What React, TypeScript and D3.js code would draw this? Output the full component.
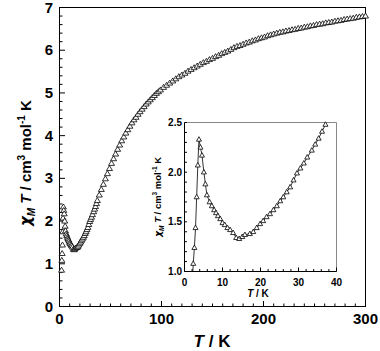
import React from "react";
import * as d3 from "d3";

// low temperature part (also shown in the inset)
const lowT = [2.0, 2.3, 2.6, 2.9, 3.2, 3.5, 3.8, 4.2, 4.6, 5.1, 5.5, 5.9, 6.6, 7.2, 7.8, 8.3, 8.8, 9.4, 10.0, 10.6, 11.3, 12.0, 12.8, 13.6, 14.4, 15.2, 15.9, 17.2, 18.1, 19.0, 19.9, 20.7, 21.6, 22.5, 23.4, 24.3, 25.2, 26.0, 26.9, 27.8, 28.7, 29.6, 30.5, 31.4, 32.3, 33.5, 34.4, 35.3, 36.2, 37.1];
const lowChiT = [0.85, 1.08, 1.24, 1.44, 1.75, 2.07, 2.33, 2.25, 2.17, 2.0, 1.88, 1.77, 1.7, 1.66, 1.62, 1.59, 1.56, 1.53, 1.49, 1.47, 1.44, 1.42, 1.39, 1.34, 1.33, 1.35, 1.37, 1.38, 1.4, 1.44, 1.48, 1.51, 1.55, 1.58, 1.62, 1.66, 1.71, 1.75, 1.8, 1.85, 1.92, 1.99, 2.04, 2.09, 2.15, 2.22, 2.28, 2.34, 2.41, 2.48];
// higher temperatures (main plot only)
const highT = [39, 41, 43, 45, 47, 49, 51, 53, 55, 57, 59, 61, 63, 65, 67, 69, 71, 73, 75, 77, 79, 81, 83, 85, 87, 89, 91, 93, 95, 97, 99, 102, 105, 108, 111, 114, 117, 120, 123, 126, 129, 132, 135, 138, 141, 144, 147, 150, 153, 156, 159, 162, 165, 168, 171, 174, 177, 180, 183, 186, 189, 192, 195, 198, 201, 204, 207, 210, 213, 216, 219, 222, 225, 228, 231, 234, 237, 240, 243, 246, 249, 252, 255, 258, 261, 264, 267, 270, 273, 276, 279, 282, 285, 288, 291, 294, 297, 300];
const highChiT = [2.61, 2.74, 2.86, 2.99, 3.11, 3.23, 3.35, 3.46, 3.57, 3.68, 3.78, 3.88, 3.97, 4.06, 4.14, 4.22, 4.3, 4.37, 4.43, 4.5, 4.56, 4.62, 4.68, 4.74, 4.79, 4.84, 4.89, 4.94, 4.99, 5.03, 5.07, 5.13, 5.18, 5.23, 5.28, 5.33, 5.38, 5.42, 5.46, 5.51, 5.55, 5.59, 5.63, 5.67, 5.71, 5.74, 5.78, 5.81, 5.85, 5.88, 5.92, 5.95, 5.98, 6.02, 6.06, 6.09, 6.11, 6.14, 6.17, 6.19, 6.22, 6.24, 6.27, 6.29, 6.31, 6.34, 6.36, 6.38, 6.4, 6.42, 6.43, 6.45, 6.46, 6.48, 6.49, 6.51, 6.52, 6.54, 6.55, 6.57, 6.58, 6.6, 6.61, 6.62, 6.64, 6.65, 6.66, 6.68, 6.69, 6.7, 6.72, 6.73, 6.74, 6.75, 6.77, 6.78, 6.79, 6.8];

const mainXTicks = [0, 100, 200, 300];
const mainYTicks = [0, 1, 2, 3, 4, 5, 6, 7];
const insetXTicks = [0, 10, 20, 30, 40];
const insetYTicks = [1.0, 1.5, 2.0, 2.5];

const font = "'Liberation Sans', Arial, sans-serif";
const chiFont = "'DejaVu Sans', sans-serif";

const x = d3.scaleLinear().domain([0, 300]).range([59.5, 365.5]);
const y = d3.scaleLinear().domain([0, 7]).range([306.5, 7.5]);
const xi = d3.scaleLinear().domain([0, 40]).range([184.5, 336.5]);
const yi = d3.scaleLinear().domain([1, 2.5]).range([271.5, 122.5]);

const tri = (cx: number, cy: number, w: number, h: number) =>
	`M${cx},${cy - h * 0.6}L${cx + w / 2},${cy + h * 0.4}L${cx - w / 2},${cy + h * 0.4}Z`;

export default function App() {
	const allT = lowT.concat(highT);
	const allChi = lowChiT.concat(highChiT);
	const insetLine = d3
		.line<number>()
		.x((d, i) => xi(lowT[i]))
		.y((d) => yi(d));
	const xMinor = d3.range(0, 301, 10);
	const yMinor = d3.range(0, 7.01, 0.2);
	const xiMinor = d3.range(0, 40.01, 2);
	const yiMinor = d3.range(1, 2.501, 0.1);
	return (
		<svg width={380} height={351} style={{ position: "absolute", left: 0, top: 0, background: "#fff" }}>
			{/* main frame */}
			<rect x={59.5} y={7.5} width={306} height={299} fill="none" stroke="#000" strokeWidth={1} />
			{xMinor.map((t) => (
				<line key={"xm" + t} x1={x(t)} x2={x(t)} y1={306.5} y2={t % 100 === 0 ? 301 : 303.5} stroke="#000" />
			))}
			{yMinor.map((v) => (
				<line key={"ym" + v} x1={59.5} x2={Math.abs(v - Math.round(v)) < 0.01 ? 65 : 62.5} y1={y(v)} y2={y(v)} stroke="#000" />
			))}
			{mainXTicks.map((t) => (
				<text key={"xl" + t} x={x(t)} y={324} textAnchor="middle" fontSize={15} fontWeight="bold" fontFamily={font}>
					{t}
				</text>
			))}
			{mainYTicks.map((v) => (
				<text key={"yl" + v} x={53} y={y(v) + 5} textAnchor="end" fontSize={15} fontWeight="bold" fontFamily={font}>
					{v}
				</text>
			))}
			<text x={212} y={347} textAnchor="middle" fontSize={17} fontWeight="bold" fontFamily={font}>
				<tspan fontStyle="italic">T</tspan> / K
			</text>
			<text transform="translate(31,163) rotate(-90)" textAnchor="middle" fontSize={15} fontWeight="bold" fontFamily={font}>
				<tspan fontStyle="italic" fontFamily={chiFont}>χ</tspan>
				<tspan fontStyle="italic" fontSize={10} dy={4}>M</tspan>
				<tspan fontStyle="italic" dy={-4}> T</tspan>
				<tspan> / cm</tspan>
				<tspan fontSize={10} dy={-6}>3</tspan>
				<tspan dy={6}> mol</tspan>
				<tspan fontSize={10} dy={-6}>-1</tspan>
				<tspan dy={6}> K</tspan>
			</text>
			{/* main data */}
			{allChi.map((v, i) => (
				<path key={"p" + i} d={tri(x(allT[i]), y(v), 6, 5)} fill="#fff" stroke="#000" strokeWidth={0.8} />
			))}

			{/* inset */}
			<rect x={184.5} y={122.5} width={152} height={149} fill="#fff" />
			<line x1={184.5} x2={336.5} y1={122.5} y2={122.5} stroke="#888" />
			<line x1={336.5} x2={336.5} y1={122.5} y2={271.5} stroke="#888" />
			<line x1={184.5} x2={184.5} y1={122.5} y2={271.5} stroke="#000" />
			<line x1={184.5} x2={336.5} y1={271.5} y2={271.5} stroke="#000" />
			{xiMinor.map((t) => (
				<line key={"xim" + t} x1={xi(t)} x2={xi(t)} y1={271.5} y2={t % 10 === 0 ? 267.5 : 269} stroke="#000" />
			))}
			{yiMinor.map((v) => (
				<line key={"yim" + v} x1={184.5} x2={187} y1={yi(v)} y2={yi(v)} stroke="#000" />
			))}
			{insetXTicks.map((t) => (
				<text key={"xil" + t} x={xi(t)} y={286} textAnchor="middle" fontSize={10} fontWeight="bold" fontFamily={font}>
					{t}
				</text>
			))}
			{insetYTicks.map((v) => (
				<text key={"yil" + v} x={182} y={yi(v) + 3.5} textAnchor="end" fontSize={10} fontWeight="bold" fontFamily={font}>
					{v.toFixed(1)}
				</text>
			))}
			<text x={258} y={297} textAnchor="middle" fontSize={10} fontWeight="bold" fontFamily={font}>
				<tspan fontStyle="italic">T</tspan> / K
			</text>
			<text transform="translate(161,197) rotate(-90)" textAnchor="middle" fontSize={9.5} fontWeight="bold" fontFamily={font}>
				<tspan fontStyle="italic" fontFamily={chiFont}>χ</tspan>
				<tspan fontStyle="italic" fontSize={6.5} dy={2.5}>M</tspan>
				<tspan fontStyle="italic" dy={-2.5}> T</tspan>
				<tspan> / cm</tspan>
				<tspan fontSize={6.5} dy={-4}>3</tspan>
				<tspan dy={4}> mol</tspan>
				<tspan fontSize={6.5} dy={-4}>-1</tspan>
				<tspan dy={4}> K</tspan>
			</text>
			<defs>
				<clipPath id="insetClip">
					<rect x={184.5} y={122.5} width={152} height={149} />
				</clipPath>
			</defs>
			<path d={insetLine(lowChiT) || ""} fill="none" stroke="#000" strokeWidth={0.8} clipPath="url(#insetClip)" />
			{lowChiT.map((v, i) =>
				v >= 1 ? (
					<path key={"ip" + i} d={tri(xi(lowT[i]), yi(v), 5, 4.5)} fill="#fff" stroke="#000" strokeWidth={0.8} />
				) : null
			)}
		</svg>
	);
}
